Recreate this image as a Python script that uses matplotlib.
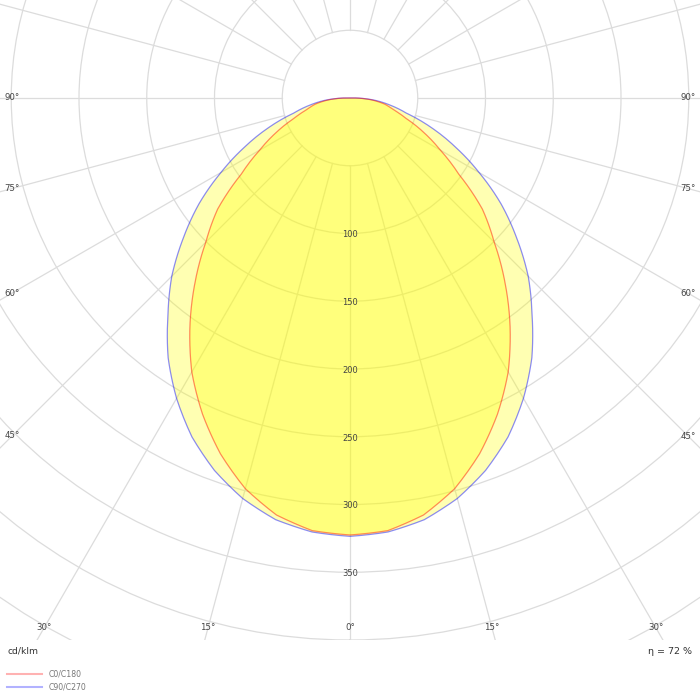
import numpy as np
import matplotlib.pyplot as plt
from matplotlib.path import Path
from matplotlib.patches import PathPatch

# luminous intensity, cd/klm, read every 5 degrees from nadir
gamma = [0, 5, 10, 15, 20, 25, 30, 35, 40, 45, 50, 55, 60, 65, 70, 75, 80, 85, 90]
c0_c180 = [322.5, 320.5, 312.5, 298.5, 279.5, 257.5, 233.5, 206, 178, 150.5,
           127.5, 98, 77, 60, 44, 33, 26, 16, 4]
c90_c270 = [323.5, 321.5, 316, 306, 292.5, 276, 256, 234, 209, 186,
            160.5, 136, 110, 86, 64, 43, 30, 18, 4]

circle_values = [50, 100, 150, 200, 250, 300, 350, 400, 450]
circle_labels = [100, 150, 200, 250, 300, 350]
angle_labels = [0, 15, 30, 45, 60, 75, 90]
eta = 72

W = 700
PX = 1.355          # pixels per cd/klm
cx, cy = 350, 98    # pole position in pixels
rmax = 480
grid_col = '#dcdcdc'
txt_col = '#444444'

fig = plt.figure(figsize=(7, 7), dpi=100)
R = rmax * PX / W
ax = fig.add_axes([cx / W - R, 1 - cy / W - R, 2 * R, 2 * R], projection='polar')
ax.set_theta_zero_location('S')
ax.set_theta_direction(1)
ax.set_ylim(0, rmax)
ax.set_axisbelow(True)
ax.set_yticks(circle_values)
ax.set_yticklabels([])
ax.set_xticks([])
ax.grid(axis='y', color=grid_col, lw=0.9)
ax.spines['polar'].set_visible(False)

# radial lines start at the 50 circle
for a in range(0, 360, 15):
    ax.plot(np.radians([a, a]), [50, rmax], color=grid_col, lw=0.9, zorder=0.5)


def closed_curve(vals):
    g = np.array(gamma, dtype=float)
    v = np.array(vals, dtype=float)
    th = np.concatenate([[-90], -g[::-1], g[1:], [90]])
    r = np.concatenate([[0], v[::-1], v[1:], [0]])
    # let the polar transform follow theta between samples instead of chords
    return Path(np.column_stack([np.radians(th), r]), _interpolation_steps=12)


p_b = closed_curve(c90_c270)
p_r = closed_curve(c0_c180)
for p in (p_b, p_r):
    ax.add_patch(PathPatch(p, facecolor=(1, 1, 0), alpha=0.3, lw=0, zorder=1))
ax.add_patch(PathPatch(p_b, fill=False, edgecolor=(0, 0, 1, 0.45), lw=0.9, zorder=2))
ax.add_patch(PathPatch(p_r, fill=False, edgecolor=(1, 0, 0, 0.45), lw=0.9, zorder=2))

for v in circle_labels:
    ax.text(0, v + 1, str(v), ha='center', va='center', fontsize=6,
            color=txt_col, zorder=3)

# angle labels sit where each ray leaves the visible frame
side_px = cx - 12
bottom_px = 628 - cy
for g in angle_labels:
    gr = np.radians(g)
    d_side = side_px / np.sin(gr) if g > 0 else np.inf
    d_bot = bottom_px / np.cos(gr) if g < 90 else np.inf
    r_lab = min(d_side, d_bot) / PX
    for s in ([1] if g == 0 else [1, -1]):
        ax.text(s * gr, r_lab, f'{g}°', ha='center', va='center',
                fontsize=6.2, color=txt_col, zorder=3)

# footer strip
bax = fig.add_axes([0, 0, 1, 60 / W], zorder=5)
bax.set_facecolor('white')
bax.set_xlim(0, W)
bax.set_ylim(700, 640)
bax.set_xticks([])
bax.set_yticks([])
for s in bax.spines.values():
    s.set_visible(False)

bax.text(7, 651, 'cd/klm', fontsize=6.6, va='center', color='#333333')
bax.text(692, 651, f'η = {eta} %', fontsize=6.8, va='center', ha='right', color='#333333')
bax.plot([7, 42], [674, 674], color='red', alpha=0.3, lw=1.5)
bax.plot([7, 42], [687, 687], color='blue', alpha=0.3, lw=1.5)
bax.text(49, 674, 'C0/C180', fontsize=5.6, va='center', color='#777777')
bax.text(49, 687, 'C90/C270', fontsize=5.6, va='center', color='#777777')

fig.savefig('out.png', dpi=100)
